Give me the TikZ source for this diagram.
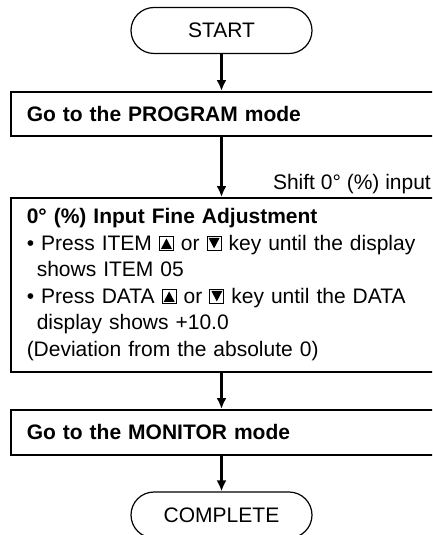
\documentclass[tikz,border=0pt]{standalone}
\usepackage{fontspec}
\setmainfont{Liberation Sans}
\usetikzlibrary{arrows.meta}

\newcommand{\upkey}{\tikz[baseline=0pt,x=1pt,y=1pt]{\draw[line width=1pt] (0,0) rectangle (14,14); \fill (1.5,1.5) -- (12.5,1.5) -- (7,12) -- cycle;}}
\newcommand{\downkey}{\tikz[baseline=0pt,x=1pt,y=1pt]{\draw[line width=1pt] (0,0) rectangle (14,14); \fill (1.5,12.5) -- (12.5,12.5) -- (7,2) -- cycle;}}

\begin{document}
\begin{tikzpicture}[x=1pt,y=-1pt,
  font=\fontsize{21}{26.5}\selectfont,
  termbox/.style={draw, line width=1.2pt, rounded corners=23pt, minimum width=181pt, minimum height=46pt, inner sep=0pt},
  stepbox/.style={draw, line width=1.5pt, anchor=north west, minimum width=430pt, text width=398pt, inner xsep=16pt, inner ysep=0pt, align=left},
  flow/.style={line width=2.2pt, -{Latex[length=11pt,width=10pt]}}]
\useasboundingbox (0,0) rectangle (432,535);
\clip (0,0) rectangle (432,535);

\node[termbox] (start) at (221.5,30.5) {START};
\node[stepbox, minimum height=44pt] (prog) at (10,91) {\textbf{Go to the PROGRAM mode}};
\node[stepbox, minimum height=174pt] (adjust) at (10,197) {\textbf{0° (\%) Input Fine Adjustment}\\
• Press ITEM \upkey{} or \downkey{} key until the display\\
\hspace*{10pt}shows ITEM 05\\
• Press DATA \upkey{} or \downkey{} key until the DATA\\
\hspace*{10pt}display shows +10.0\\
(Deviation from the absolute 0)};
\node[stepbox, minimum height=45pt] (monitor) at (10,409) {\textbf{Go to the MONITOR mode}};
\node[termbox] (complete) at (221.5,515) {COMPLETE};
\node[anchor=base east, inner sep=0pt] (shift) at (431,189) {Shift 0° (\%) input};

\draw[flow] (start.south) -- (start.south |- prog.north);
\draw[flow] (start.south |- prog.south) -- (start.south |- adjust.north);
\draw[flow] (start.south |- adjust.south) -- (start.south |- monitor.north);
\draw[flow] (start.south |- monitor.south) -- (complete.north);
\end{tikzpicture}
\end{document}
